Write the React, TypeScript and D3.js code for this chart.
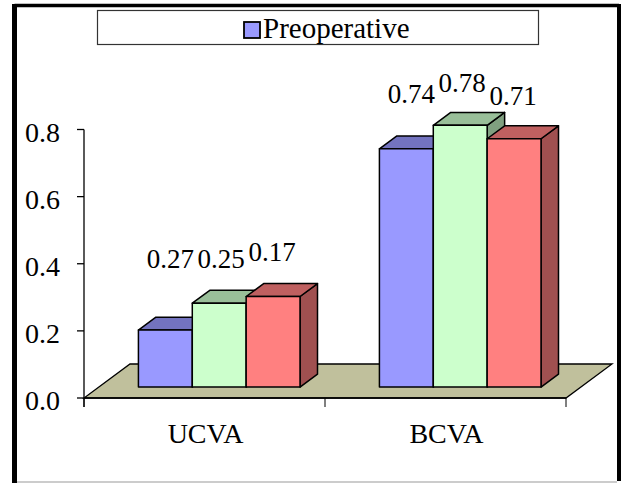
import * as React from 'react';
import * as d3 from 'd3';

const categories = ['UCVA', 'BCVA'];
const seriesNames = ['Preoperative', 'Series 2', 'Series 3'];
const blueValues = [0.17, 0.71];
const greenValues = [0.25, 0.78];
const redValues = [0.27, 0.74];
const yTicks = [0, 0.2, 0.4, 0.6, 0.8];
// data labels are typed in the picture in the reverse order of the bars
const labelTexts = [
    ['0.27', '0.25', '0.17'],
    ['0.74', '0.78', '0.71'],
];
const labelDy = [
    [-29, -29, -36],
    [-22, -33, -20],
];

const W = 621;
const H = 483;
const FONT = "'Times New Roman', 'Liberation Serif', 'DejaVu Serif', serif";

const faces = [
    { front: '#9999ff', top: '#7373bf', side: '#6060a0' },
    { front: '#ccffcc', top: '#99bf99', side: '#80a080' },
    { front: '#ff8080', top: '#bf6060', side: '#a05050' },
];

export default function App() {
    const values = [blueValues, greenValues, redValues];

    const x0 = d3.scaleBand().domain(categories).range([84, 566]).padding(0);
    const x1 = d3.scaleBand<number>()
        .domain([0, 1, 2])
        .range([0, x0.bandwidth()])
        .paddingInner(0)
        .paddingOuter(0.737);
    const y = d3.scaleLinear().domain([0, 0.8]).range([398, 129.5]);

    // depth of the floor (back edge relative to front edge)
    const depth = { dx: 46, dy: -34 };
    const f0 = 0.32;
    const f1 = 0.70;
    const floorY = y(0);
    const floorX0 = x0.range()[0];
    const floorX1 = x0.range()[1];

    const pts = (p: number[][]) => p.map(d => d.join(',')).join(' ');
    const txt = { fontFamily: FONT };

    const bars: React.ReactNode[] = [];
    const labels: React.ReactNode[] = [];
    categories.forEach((cat, ci) => {
        values.forEach((vals, si) => {
            const v = vals[ci];
            const bw = x1.bandwidth();
            const xl = (x0(cat) as number) + (x1(si) as number) + depth.dx * f0;
            const xr = xl + bw;
            const yb = floorY + depth.dy * f0;
            const yt = yb - (floorY - y(v));
            const ddx = depth.dx * (f1 - f0);
            const ddy = depth.dy * (f1 - f0);
            const c = faces[si];
            bars.push(
                <g key={`${cat}-${si}`} stroke="#000" strokeWidth={1.5} strokeLinejoin="round">
                    <polygon points={pts([[xr, yt], [xr + ddx, yt + ddy], [xr + ddx, yb + ddy], [xr, yb]])} fill={c.side} />
                    <polygon points={pts([[xl, yt], [xl + ddx, yt + ddy], [xr + ddx, yt + ddy], [xr, yt]])} fill={c.top} />
                    <rect x={xl} y={yt} width={bw} height={yb - yt} fill={c.front} />
                </g>
            );
        });
        // the typed labels sit above the group's tallest bar
        const gMax = d3.max(values, vals => vals[ci]) as number;
        const topY = floorY + depth.dy * f0 - (floorY - y(gMax));
        labelTexts[ci].forEach((t, li) => {
            const cx = (x0(cat) as number) + (x1(li) as number) + x1.bandwidth() / 2 + depth.dx * f0 + 5 - 3 * li;
            labels.push(
                <text key={`l-${cat}-${li}`} x={cx} y={topY + labelDy[ci][li]} textAnchor="middle" fontSize={27} style={txt} fill="#000">
                    {t}
                </text>
            );
        });
    });

    return (
        <svg width={W} height={H} style={{ position: 'fixed', left: 0, top: 0, background: '#fff', fontFamily: FONT }}>
            <rect x={0} y={0} width={W} height={H} fill="#fff" />

            {/* outer frame */}
            <line x1={14.5} y1={5.5} x2={619} y2={5.5} stroke="#000" strokeWidth={3.5} />
            <line x1={14.5} y1={4} x2={14.5} y2={H} stroke="#000" strokeWidth={5} />
            <line x1={619} y1={4} x2={619} y2={481} stroke="#000" strokeWidth={4} />
            <line x1={17} y1={482} x2={617} y2={482} stroke="#999" strokeWidth={1.2} />

            {/* legend */}
            <rect x={97.5} y={10.5} width={441} height={34} fill="#fff" stroke="#333" strokeWidth={1.2} />
            <rect x={244} y={22} width={16} height={16} fill={faces[0].front} stroke="#000" strokeWidth={1.8} />
            <text x={263} y={38} fontSize={29} style={txt} fill="#000">{seriesNames[0]}</text>

            {/* floor */}
            <polygon
                points={pts([[floorX0, floorY], [floorX1, floorY], [floorX1 + depth.dx, floorY + depth.dy], [floorX0 + depth.dx, floorY + depth.dy]])}
                fill="#c0c09c"
                stroke="#000"
                strokeWidth={1.3}
            />

            {/* y axis */}
            <line x1={floorX0} y1={y(0.8)} x2={floorX0} y2={floorY + 9} stroke="#000" strokeWidth={1.3} />
            {yTicks.map(t => (
                <g key={t}>
                    <line x1={floorX0 - 7} y1={y(t)} x2={floorX0} y2={y(t)} stroke="#000" strokeWidth={1.3} />
                    <text x={60} y={y(t) + 12} textAnchor="end" fontSize={28} style={txt} fill="#000">
                        {d3.format('.1f')(t)}
                    </text>
                </g>
            ))}

            {/* x axis ticks and labels */}
            <line x1={floorX0} y1={floorY} x2={floorX1} y2={floorY} stroke="#000" strokeWidth={1.5} />
            {[...categories.map(c => x0(c) as number), floorX1].map((tx, i) => (
                <line key={i} x1={tx} y1={floorY} x2={tx} y2={floorY + 9} stroke="#000" strokeWidth={1} />
            ))}
            {categories.map(c => (
                <text key={c} x={(x0(c) as number) + x0.bandwidth() / 2 + 1} y={443} textAnchor="middle" fontSize={28} style={txt} fill="#000">
                    {c}
                </text>
            ))}

            {bars}
            {labels}
        </svg>
    );
}
